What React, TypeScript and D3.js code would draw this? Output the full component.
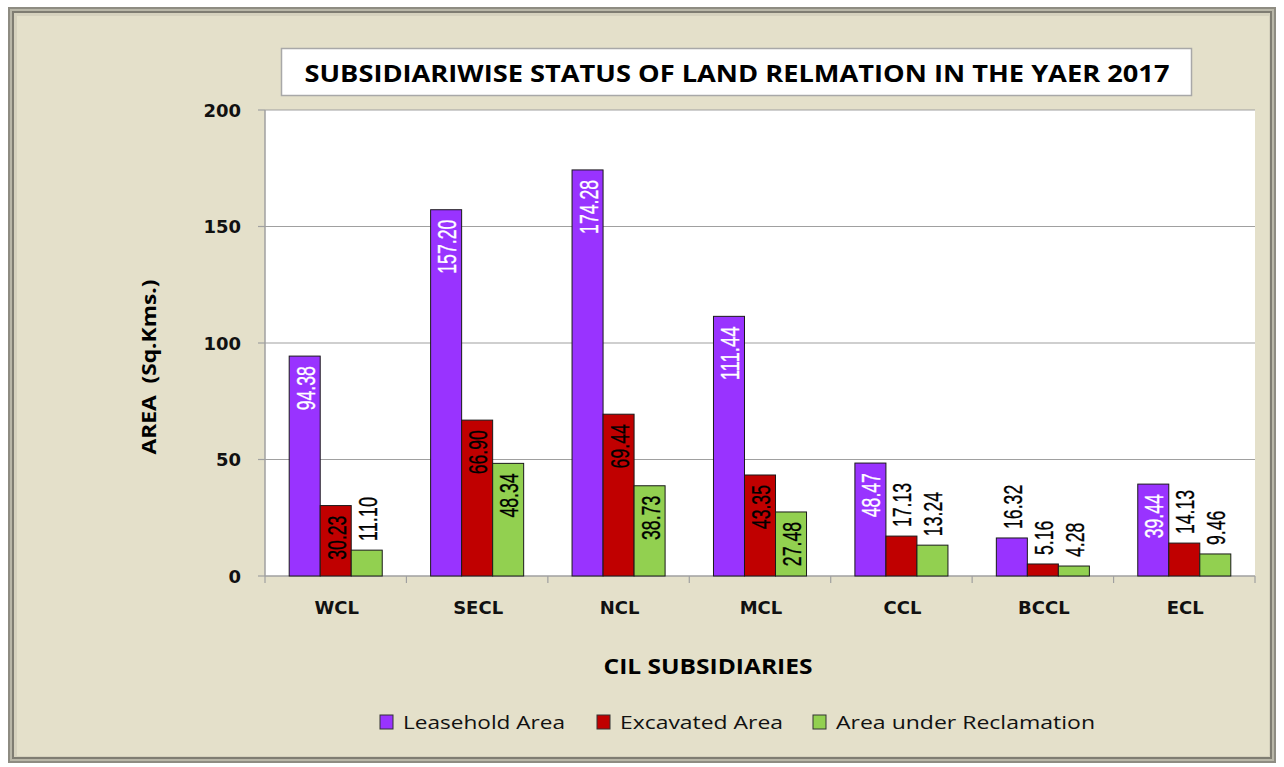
import React from "react";
import * as d3 from "d3";

// chart data
const subsidiaries = ["WCL", "SECL", "NCL", "MCL", "CCL", "BCCL", "ECL"];
const leaseholdArea = [94.38, 157.2, 174.28, 111.44, 48.47, 16.32, 39.44];
const excavatedArea = [30.23, 66.9, 69.44, 43.35, 17.13, 5.16, 14.13];
const reclamationArea = [11.1, 48.34, 38.73, 27.48, 13.24, 4.28, 9.46];
const seriesNames = ["Leasehold Area", "Excavated Area", "Area under Reclamation"];
const seriesColors = ["#9933FF", "#C00000", "#92D050"];
const yTicks = [0, 50, 100, 150, 200];

const W = 1284;
const H = 767;
const plot = { left: 265, right: 1255, top: 110, bottom: 576 };

// condensed label width (the original uses a narrow font)
const labelLength = (s: string) => s.replace(".", "").length * 9.8 + 5;

export default function App() {
  const series = [leaseholdArea, excavatedArea, reclamationArea];

  const x0 = d3.scaleBand<string>().domain(subsidiaries).range([plot.left, plot.right]).padding(0);
  const x1 = d3
    .scaleBand<string>()
    .domain(seriesNames)
    .range([0, x0.bandwidth()])
    .paddingInner(0)
    .paddingOuter(0.78);
  const y = d3.scaleLinear().domain([0, 200]).range([plot.bottom, plot.top]);

  const bars: JSX.Element[] = [];
  const labels: JSX.Element[] = [];
  subsidiaries.forEach((cat, i) => {
    series.forEach((vals, s) => {
      const v = vals[i];
      const bx = (x0(cat) as number) + (x1(seriesNames[s]) as number);
      const bw = x1.bandwidth();
      const top = y(v);
      const h = y(0) - top;
      bars.push(
        <rect key={`b-${i}-${s}`} x={bx} y={top} width={bw} height={h}
          fill={seriesColors[s]} stroke="#1a1a1a" strokeWidth={1} />
      );
      const inside = h > 60;
      const cx = bx + bw / 2 + 1;
      const ly = inside ? top + 10 : top - 9;
      const str = v.toFixed(2);
      const col = inside && s === 0 ? "#ffffff" : "#000000";
      labels.push(
        <text key={`l-${i}-${s}`} transform={`translate(${cx},${ly}) rotate(-90)`}
          textAnchor={inside ? "end" : "start"} dominantBaseline="central"
          fontFamily="'Liberation Sans', Arial, sans-serif" fontSize={26}
          textLength={labelLength(str)} lengthAdjust="spacingAndGlyphs"
          fill={col} stroke={col} strokeWidth={0.35}>
          {str}
        </text>
      );
    });
  });

  const bandEdges = subsidiaries.map((c) => x0(c) as number).concat([plot.right]);
  const legendX = [380, 597, 813];
  const legendLen = [162, 163, 259];

  return (
    <svg width={W} height={H} style={{ position: "absolute", left: 0, top: 0, background: "#fff" }}>
      {/* bevelled frame */}
      <rect x={8} y={7} width={1268} height={756} fill="#8E8C82" />
      <rect x={10} y={9} width={1264} height={752} fill="#B9B7A8" />
      <rect x={12} y={11} width={1260} height={748} fill="#7F7D72" />
      <rect x={14} y={13} width={1256} height={744} fill="#D6D2BE" />
      <rect x={17} y={16} width={1252} height={740} fill="#E4E0CA" />

      {/* plot area */}
      <rect x={plot.left} y={plot.top} width={plot.right - plot.left} height={plot.bottom - plot.top} fill="#ffffff" />
      {yTicks.filter((t) => t > 0).map((t) => (
        <line key={`g${t}`} x1={plot.left} x2={plot.right} y1={y(t)} y2={y(t)} stroke="#A0A0A0" strokeWidth={1.2} />
      ))}
      <line x1={plot.left} x2={plot.left} y1={plot.top} y2={plot.bottom} stroke="#A0A0A0" strokeWidth={1.5} />
      <line x1={plot.left} x2={plot.right} y1={plot.bottom} y2={plot.bottom} stroke="#A0A0A0" strokeWidth={1.5} />
      {yTicks.map((t) => (
        <g key={`yt${t}`}>
          <line x1={plot.left - 7} x2={plot.left} y1={y(t)} y2={y(t)} stroke="#A0A0A0" strokeWidth={1.2} />
          <text x={241} y={y(t)} textAnchor="end" dominantBaseline="central"
            fontFamily="'DejaVu Sans', Verdana, sans-serif" fontWeight="bold" fontSize={18} fill="#111">
            {t}
          </text>
        </g>
      ))}
      {bandEdges.map((e, i) => (
        <line key={`xt${i}`} x1={e} x2={e} y1={plot.bottom} y2={plot.bottom + 7} stroke="#A0A0A0" strokeWidth={1.2} />
      ))}
      {subsidiaries.map((c) => (
        <text key={`xl${c}`} x={(x0(c) as number) + x0.bandwidth() / 2 + 1} y={607} textAnchor="middle"
          dominantBaseline="central" fontFamily="'DejaVu Sans', Verdana, sans-serif" fontWeight="bold"
          fontSize={18} fill="#111">
          {c}
        </text>
      ))}

      {bars}
      {labels}

      {/* title */}
      <rect x={281.5} y={48.5} width={910} height={47} fill="#ffffff" stroke="#A8A8A8" strokeWidth={1.5} />
      <text x={737} y={73} textAnchor="middle" dominantBaseline="central" fontFamily="'Open Sans', sans-serif"
        fontWeight="bold" fontSize={23} textLength={865} lengthAdjust="spacingAndGlyphs" fill="#000">
        SUBSIDIARIWISE STATUS OF LAND RELMATION IN THE YAER 2017
      </text>

      {/* axis titles */}
      <text transform="translate(148,367) rotate(-90)" textAnchor="middle" dominantBaseline="central"
        fontFamily="'Open Sans', sans-serif" fontWeight="bold" fontSize={20} textLength={175}
        lengthAdjust="spacingAndGlyphs" fill="#000" style={{ whiteSpace: "pre" }}>
        {"AREA\u00a0\u00a0(Sq.Kms.)"}
      </text>
      <text x={708} y={666} textAnchor="middle" dominantBaseline="central" fontFamily="'Open Sans', sans-serif"
        fontWeight="bold" fontSize={21} textLength={209} lengthAdjust="spacingAndGlyphs" fill="#000">
        CIL SUBSIDIARIES
      </text>

      {/* legend */}
      {seriesNames.map((n, s) => (
        <g key={`lg${s}`}>
          <rect x={legendX[s]} y={715} width={13} height={14} fill={seriesColors[s]} stroke="#333" strokeWidth={1} />
          <text x={legendX[s] + 23} y={722} dominantBaseline="central" fontFamily="'Open Sans', sans-serif"
            fontSize={19} textLength={legendLen[s]} lengthAdjust="spacingAndGlyphs" fill="#111">
            {n}
          </text>
        </g>
      ))}
    </svg>
  );
}
